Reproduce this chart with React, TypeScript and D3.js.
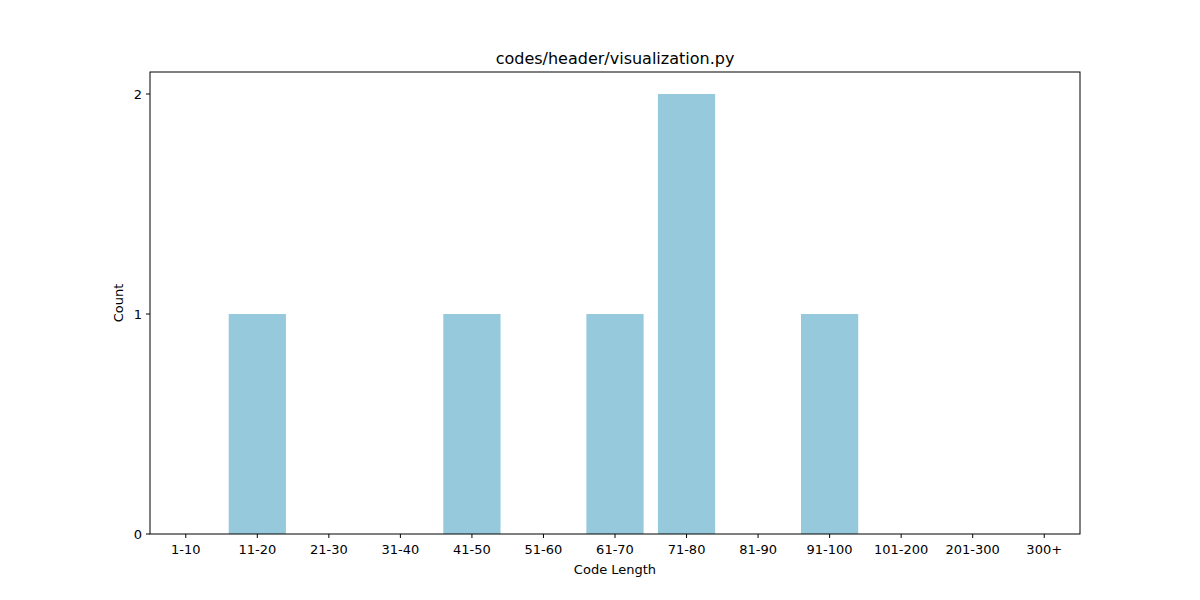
import React from "react";
import * as d3 from "d3";

const categories = ["1-10","11-20","21-30","31-40","41-50","51-60","61-70","71-80","81-90","91-100","101-200","201-300","300+"];
const counts = [0,1,0,0,1,0,1,2,0,1,0,0,0];
const yTicks = [0,1,2];

export default function App() {
  const W = 1200, H = 600;
  const L = 150, R = 1080, T = 72, B = 534;
  const x = d3.scaleLinear().domain([-0.5, categories.length - 0.5]).range([L, R]);
  const y = d3.scaleLinear().domain([0, 2.1]).range([B, T]);
  const font = "DejaVu Sans, sans-serif";
  return (
    <svg width={W} height={H} style={{ position: "absolute", left: 0, top: 0, background: "#fff" }} fontFamily={font}>
      {counts.map((c, i) => (
        <rect key={i} x={x(i - 0.4)} width={x(0.8) - x(0)} y={y(c)} height={y(0) - y(c)} fill="#96c9dc" />
      ))}
      <rect x={L} y={T} width={R - L} height={B - T} fill="none" stroke="#000" strokeWidth={1} />
      {categories.map((c, i) => (
        <g key={c}>
          <line x1={x(i)} x2={x(i)} y1={B} y2={B + 4} stroke="#000" />
          <text x={x(i)} y={B + 20} fontSize={13} textAnchor="middle">{c}</text>
        </g>
      ))}
      {yTicks.map(t => (
        <g key={t}>
          <line x1={L - 4} x2={L} y1={y(t)} y2={y(t)} stroke="#000" />
          <text x={L - 8} y={y(t) + 5} fontSize={13} textAnchor="end">{t}</text>
        </g>
      ))}
      <text x={(L + R) / 2} y={574} fontSize={13} textAnchor="middle">Code Length</text>
      <text transform={`translate(123,${(T + B) / 2}) rotate(-90)`} fontSize={13} textAnchor="middle">Count</text>
      <text x={(L + R) / 2} y={64} fontSize={16} textAnchor="middle">codes/header/visualization.py</text>
    </svg>
  );
}
